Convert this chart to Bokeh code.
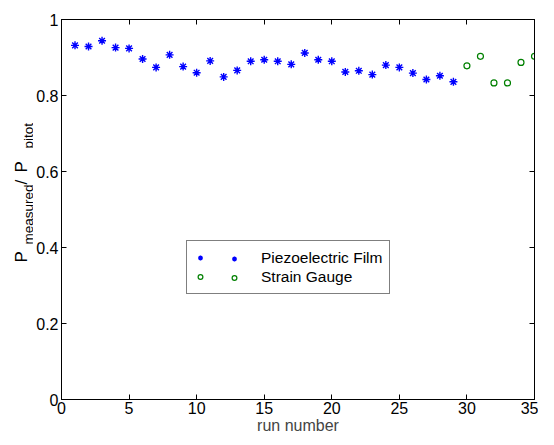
import math
from bokeh.plotting import figure
from bokeh.layouts import row
from bokeh.models import (Range1d, LinearAxis, Legend, LegendItem,
                          FixedTicker, ColumnDataSource, CustomLabelingPolicy)
from bokeh.core.properties import value
from bokeh.embed import file_html
from bokeh.resources import INLINE

# ---- data ----
piezo_run = list(range(1, 30))
piezo_ratio = [0.932, 0.929, 0.944, 0.926, 0.924, 0.896, 0.874, 0.907, 0.876, 0.860,
               0.891, 0.849, 0.866, 0.890, 0.894, 0.890, 0.882, 0.912, 0.894, 0.890,
               0.862, 0.865, 0.855, 0.880, 0.874, 0.859, 0.842, 0.852, 0.836]
strain_run = [30, 31, 32, 33, 34, 35]
strain_ratio = [0.878, 0.903, 0.833, 0.833, 0.887, 0.903]
x_ticks = [0, 5, 10, 15, 20, 25, 30, 35]
y_ticks = [0, 0.2, 0.4, 0.6, 0.8, 1.0]
series_labels = ["Piezoelectric Film", "Strain Gauge"]
ylabel_parts = ["P", "measured", "/", "P", "pitot"]

FONT = "Liberation Sans"
FS = "16px"

# ---- main plot ----
p = figure(width=505, height=437, output_backend="svg", toolbar_location=None,
           x_range=Range1d(0, 35), y_range=Range1d(0, 1),
           min_border_left=28, min_border_right=2, min_border_top=19,
           min_border_bottom=38)
p.background_fill_color = "white"
p.border_fill_color = "white"
p.outline_line_color = "black"
p.outline_line_width = 1
p.xgrid.visible = False
p.ygrid.visible = False

no_labels = CustomLabelingPolicy(code="return new Set()")

def style_axis(ax, ticks, show_labels=True):
    ax.ticker = FixedTicker(ticks=ticks)
    ax.major_tick_in = 5
    ax.major_tick_out = 0
    ax.minor_tick_in = 0
    ax.minor_tick_out = 0
    ax.axis_line_color = "black"
    ax.major_tick_line_color = "black"
    ax.major_label_text_font = FONT
    ax.major_label_text_color = "black"
    if show_labels:
        ax.major_label_text_font_size = FS
        ax.major_label_standoff = 2
    else:
        ax.major_label_text_font_size = "1px"
        ax.major_label_standoff = 0
        ax.major_label_policy = no_labels

style_axis(p.xaxis[0], x_ticks)
style_axis(p.yaxis[0], y_ticks)
p.yaxis[0].major_label_standoff = 3
p.xaxis[0].axis_label = "run number"
p.xaxis[0].axis_label_text_font = FONT
p.xaxis[0].axis_label_text_font_size = FS
p.xaxis[0].axis_label_text_font_style = "normal"
p.xaxis[0].axis_label_standoff = 0

top = LinearAxis()
style_axis(top, x_ticks, show_labels=False)
p.add_layout(top, "above")
right = LinearAxis()
style_axis(right, y_ticks, show_labels=False)
p.add_layout(right, "right")

src_p = ColumnDataSource(dict(x=piezo_run, y=piezo_ratio))
src_s = ColumnDataSource(dict(x=strain_run, y=strain_ratio))
r1 = p.scatter("x", "y", source=src_p, marker="asterisk", size=8,
               line_color="#0000ff", line_width=1.4)
r2 = p.scatter("x", "y", source=src_s, marker="circle", size=6,
               line_color="#008000", fill_color=None, line_width=1.2)

# ---- legend (MATLAB-style, marker shown twice) ----
common = dict(padding=7, spacing=0, margin=0, label_height=19, glyph_height=19,
              glyph_width=12, label_text_font=FONT, label_text_font_size="15.5px",
              label_text_color="black")
leg1 = Legend(items=[LegendItem(label=series_labels[0], renderers=[r1]),
                     LegendItem(label=series_labels[1], renderers=[r2])],
              location=(125, 105), label_standoff=55,
              border_line_color="black", border_line_width=1,
              background_fill_color="white", background_fill_alpha=1,
              **common)
leg2 = Legend(items=[LegendItem(label=" ", renderers=[r1]),
                     LegendItem(label="  ", renderers=[r2])],
              location=(160, 105), label_standoff=2,
              border_line_alpha=0, background_fill_alpha=0,
              **common)
p.add_layout(leg1, "center")
p.add_layout(leg2, "center")

# ---- left strip holding the y axis title (frame aligned with main plot) ----
L = figure(width=33, height=437, output_backend="svg", toolbar_location=None,
           x_range=Range1d(0, 33), y_range=p.y_range,
           min_border_left=0, min_border_right=0, min_border_top=19,
           min_border_bottom=38, x_axis_location=None, y_axis_location=None)
L.outline_line_color = None
L.background_fill_color = "white"
L.border_fill_color = "white"
L.xgrid.visible = False
L.ygrid.visible = False

title_src = ColumnDataSource(dict(
    x=[21, 27.5, 21, 21, 27.5],
    y=[0.3605, 0.4079, 0.5658, 0.5974, 0.6605],
    text=ylabel_parts,
    size=["17px", "13.5px", "17px", "17px", "13.5px"],
))
L.text(x="x", y="y", text="text", source=title_src, angle=math.pi / 2,
       text_align="left", text_baseline="alphabetic",
       text_font=value(FONT), text_font_size="size", text_color="black")

layout = row(L, p, spacing=0)
open("out.html", "w").write(file_html(layout, INLINE))
